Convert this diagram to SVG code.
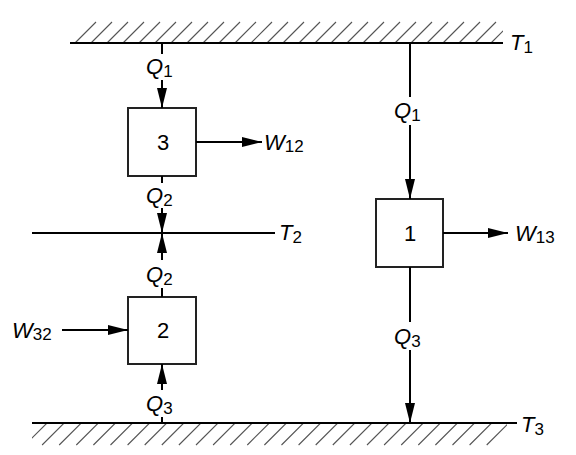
<svg xmlns="http://www.w3.org/2000/svg" width="576" height="455" viewBox="0 0 576 455">
<style>
.ln{stroke:#000;stroke-width:2;fill:none}
.ar{stroke:#000;stroke-width:2;fill:none;marker-end:url(#ah)}
.box{stroke:#222;stroke-width:2;fill:#fff}
.h{stroke:#555;stroke-width:1.1}
text{font-family:"Liberation Sans","DejaVu Sans",sans-serif;font-size:22px;fill:#000}
.it{font-style:italic}
.sub{font-size:17px;font-style:normal}
.num{text-anchor:middle;font-size:22px}
</style>
<defs>
<marker id="ah" markerUnits="userSpaceOnUse" markerWidth="20" markerHeight="10" refX="20" refY="5" orient="auto">
<path d="M0,0 L20,5 L0,10 z" fill="#000"/>
</marker>
<clipPath id="ctop"><rect x="60" y="20" width="443" height="24"/></clipPath>
<clipPath id="cbot"><rect x="32" y="423" width="475" height="25"/></clipPath>
</defs>

<g id="reservoir-T1">
<g clip-path="url(#ctop)">
<path class="h" d="M75,43l21,-21M91,43l21,-21M107,43l21,-21M123,43l21,-21M139,43l21,-21M155,43l21,-21M171,43l21,-21M187,43l21,-21M203,43l21,-21M219,43l21,-21M235,43l21,-21M251,43l21,-21M267,43l21,-21M283,43l21,-21M299,43l21,-21M315,43l21,-21M331,43l21,-21M347,43l21,-21M363,43l21,-21M379,43l21,-21M395,43l21,-21M411,43l21,-21M427,43l21,-21M443,43l21,-21M459,43l21,-21M475,43l21,-21M491,43l21,-21"/>
</g>
<line class="ln" x1="70" y1="43" x2="503" y2="43"/>
<text class="it" x="510" y="50">T<tspan class="sub" dy="3">1</tspan></text>
</g>

<g id="reservoir-T2">
<line class="ln" x1="32" y1="233" x2="275" y2="233"/>
<text class="it" x="279" y="240">T<tspan class="sub" dy="3">2</tspan></text>
</g>

<g id="reservoir-T3">
<g clip-path="url(#cbot)">
<path class="h" d="M47,423l-22,22M64.1,423l-22,22M81.2,423l-22,22M98.3,423l-22,22M115.4,423l-22,22M132.5,423l-22,22M149.6,423l-22,22M166.7,423l-22,22M183.8,423l-22,22M200.9,423l-22,22M218,423l-22,22M235.1,423l-22,22M252.2,423l-22,22M269.3,423l-22,22M286.4,423l-22,22M303.5,423l-22,22M320.6,423l-22,22M337.7,423l-22,22M354.8,423l-22,22M371.9,423l-22,22M389,423l-22,22M406.1,423l-22,22M423.2,423l-22,22M440.3,423l-22,22M457.4,423l-22,22M474.5,423l-22,22M491.6,423l-22,22M508.7,423l-22,22"/>
</g>
<line class="ln" x1="32" y1="423" x2="517" y2="423"/>
<text class="it" x="521" y="432">T<tspan class="sub" dy="3">3</tspan></text>
</g>

<g id="engine-3">
<rect class="box" x="128" y="108" width="68" height="68"/>
<text class="num" x="163" y="150">3</text>
</g>

<g id="engine-2">
<rect class="box" x="128" y="297" width="68" height="67"/>
<text class="num" x="163" y="338">2</text>
</g>

<g id="engine-1">
<rect class="box" x="376" y="199" width="67" height="68"/>
<text class="num" x="410" y="241">1</text>
</g>

<g id="connectors">
<line class="ln" x1="162" y1="43" x2="162" y2="54"/>
<line class="ar" x1="162" y1="80" x2="162" y2="108"/>
<line class="ar" x1="196" y1="142" x2="262" y2="142"/>
<line class="ln" x1="162" y1="176" x2="162" y2="183"/>
<line class="ar" x1="162" y1="208" x2="162" y2="233"/>
<line class="ar" x1="162" y1="260" x2="162" y2="233"/>
<line class="ln" x1="162" y1="288" x2="162" y2="297"/>
<line class="ar" x1="62" y1="330" x2="128" y2="330"/>
<line class="ar" x1="162" y1="390" x2="162" y2="364"/>
<line class="ln" x1="162" y1="417" x2="162" y2="423"/>
<line class="ln" x1="410" y1="43" x2="410" y2="97"/>
<line class="ar" x1="410" y1="125" x2="410" y2="199"/>
<line class="ar" x1="443" y1="233" x2="508" y2="233"/>
<line class="ln" x1="410" y1="267" x2="410" y2="322"/>
<line class="ar" x1="410" y1="350" x2="410" y2="423"/>
</g>

<g id="labels">
<text class="it" x="146" y="74">Q<tspan class="sub" dy="3">1</tspan></text>
<text class="it" x="146" y="203">Q<tspan class="sub" dy="3">2</tspan></text>
<text class="it" x="146" y="282">Q<tspan class="sub" dy="3">2</tspan></text>
<text class="it" x="146" y="411">Q<tspan class="sub" dy="3">3</tspan></text>
<text class="it" x="394" y="118">Q<tspan class="sub" dy="3">1</tspan></text>
<text class="it" x="394" y="344">Q<tspan class="sub" dy="3">3</tspan></text>
<text class="it" x="264" y="150">W<tspan class="sub" dy="2">12</tspan></text>
<text class="it" x="515" y="241">W<tspan class="sub" dy="2">13</tspan></text>
<text class="it" x="12" y="338">W<tspan class="sub" dy="2">32</tspan></text>
</g>
</svg>
